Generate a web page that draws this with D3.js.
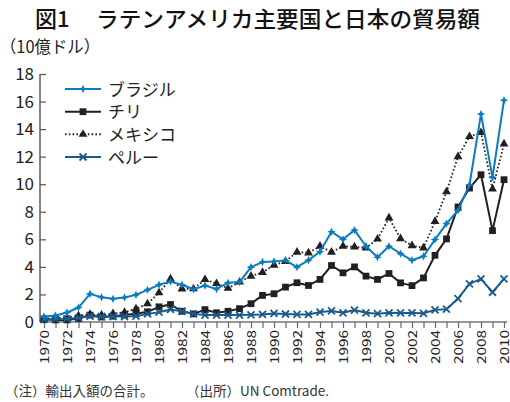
<!DOCTYPE html>
<html><head><meta charset="utf-8">
<script src="https://cdn.jsdelivr.net/npm/d3@7"></script>
<style>
body{margin:0;background:#fff;}
svg{display:block;font-family:"Noto Sans CJK JP","Noto Sans",sans-serif;}
</style></head>
<body><svg id="c" width="510" height="402"></svg>
<script>
const years = d3.range(1970, 2011);
const brazil = [0.4,0.47,0.69,1.05,2.04,1.8,1.68,1.78,1.97,2.33,
  2.7,2.93,2.7,2.38,2.64,2.4,2.84,2.9,3.98,4.35,
  4.4,4.47,3.98,4.49,5.1,6.55,6.0,6.67,5.5,4.7,
  5.5,4.96,4.48,4.77,5.98,7.14,8.1,9.96,15.1,10.5,16.1];
const chile = [0.2,0.15,0.15,0.25,0.5,0.36,0.42,0.5,0.6,0.74,
  1.1,1.27,0.78,0.59,0.9,0.67,0.78,0.97,1.33,1.93,
  2.05,2.53,2.85,2.65,3.09,4.1,3.57,4.0,3.33,3.09,
  3.52,2.84,2.64,3.2,4.84,6.03,8.35,9.72,10.69,6.63,10.33];
const mexico = [0.24,0.3,0.3,0.45,0.55,0.5,0.6,0.7,0.96,1.32,
  2.12,3.13,2.4,2.41,3.08,2.79,2.45,2.9,3.33,3.6,
  4.13,4.4,5.07,5.02,5.5,5.07,5.5,5.45,5.38,6.02,
  7.56,6.05,5.54,5.38,7.3,9.45,12.0,13.46,13.75,9.65,12.93];
const peru = [0.2,0.2,0.22,0.3,0.42,0.4,0.4,0.4,0.42,0.59,
  0.71,0.91,0.78,0.59,0.5,0.5,0.5,0.5,0.52,0.55,
  0.62,0.58,0.55,0.55,0.72,0.8,0.67,0.87,0.67,0.6,
  0.67,0.66,0.66,0.63,0.88,0.93,1.7,2.77,3.13,2.16,3.13];
const seriesNames = ["ブラジル","チリ","メキシコ","ペルー"];
const yTicks = [0,2,4,6,8,10,12,14,16,18];

const svg = d3.select("#c");
const x = d3.scaleLinear().domain([1970, 2010]).range([44, 504]);
const y = d3.scaleLinear().domain([0, 18]).range([322, 74]);

const BLUE = "#0b7cc2", DARK = "#231f20", PERU = "#1b5b8c";

// title
svg.append("text").attr("x", 35).attr("y", 27).attr("font-size", 22).attr("font-weight", 500).attr("fill", "#111").text("図1");
svg.append("text").attr("x", 96).attr("y", 27).attr("font-size", 22).attr("font-weight", 500).attr("fill", "#111")
  .attr("textLength", 384).attr("lengthAdjust", "spacingAndGlyphs").text("ラテンアメリカ主要国と日本の貿易額");
svg.append("text").attr("x", 0).attr("y", 53).attr("font-size", 17).attr("fill", "#222")
  .attr("textLength", 100).attr("lengthAdjust", "spacingAndGlyphs").text("（10億ドル）");

// y axis
const gy = svg.append("g").attr("transform", "translate(40,0)")
  .call(d3.axisRight(y).tickValues(yTicks).tickSize(6).tickFormat(""));
gy.select(".domain").attr("stroke", "#333").attr("stroke-width", 1.2).attr("d", `M0,${y(18)}V${y(0)}`);
gy.selectAll(".tick line").attr("stroke", "#555").attr("stroke-width", 1.2);
svg.append("g").selectAll("text").data(yTicks).join("text")
  .attr("x", 34).attr("y", d => y(d) + 6).attr("text-anchor", "end")
  .attr("font-size", 17).attr("fill", "#222").text(d => d);

// x axis
const gx = svg.append("g").attr("transform", `translate(0,${y(0)})`)
  .call(d3.axisBottom(x).tickValues(years).tickSize(6).tickFormat(""));
gx.select(".domain").attr("stroke", "#333").attr("stroke-width", 1.2).attr("d", "M40,0H507");
gx.selectAll(".tick line").attr("stroke", "#666").attr("stroke-width", 1.2);
svg.append("g").selectAll("text").data(years.filter(d => d % 2 === 0)).join("text")
  .attr("transform", d => `translate(${x(d) + 4.5},330) rotate(-90)`)
  .attr("text-anchor", "end").attr("font-size", 12.5).attr("fill", "#222")
  .attr("textLength", 34).attr("lengthAdjust", "spacingAndGlyphs").text(d => d);

// markers
const star = "M0,-4.2L1.3,-1.3L4.2,0L1.3,1.3L0,4.2L-1.3,1.3L-4.2,0L-1.3,-1.3Z";
const sq = d3.symbol().type(d3.symbolSquare).size(46)();
const tri = d3.symbol().type(d3.symbolTriangle).size(34)();
function drawMarker(g, type, color) {
  if (type === "x") {
    g.append("path").attr("d", "M-3.5,-3.5L3.5,3.5M-3.5,3.5L3.5,-3.5").attr("stroke", color).attr("stroke-width", 1.8).attr("fill", "none");
  } else {
    g.append("path").attr("d", type === "star" ? star : type === "sq" ? sq : tri).attr("fill", color);
  }
}
const series = [
  {name: seriesNames[2], vals: mexico, color: DARK, dash: "1.6,2.2", marker: "tri", width: 1.8},
  {name: seriesNames[1], vals: chile, color: DARK, dash: null, marker: "sq", width: 2},
  {name: seriesNames[3], vals: peru, color: PERU, dash: null, marker: "x", width: 2},
  {name: seriesNames[0], vals: brazil, color: BLUE, dash: null, marker: "star", width: 2}
];
const line = d3.line().x((d, i) => x(years[i])).y(d => y(d));
series.forEach(s => {
  svg.append("path").attr("d", line(s.vals)).attr("fill", "none").attr("stroke", s.color)
    .attr("stroke-width", s.width).attr("stroke-dasharray", s.dash).attr("stroke-linejoin", "round");
  s.vals.forEach((v, i) => {
    const g = svg.append("g").attr("transform", `translate(${x(years[i])},${y(v)})`);
    drawMarker(g, s.marker, s.color);
  });
});

// legend
const legend = [
  {name: seriesNames[0], color: BLUE, dash: null, marker: "star"},
  {name: seriesNames[1], color: DARK, dash: null, marker: "sq"},
  {name: seriesNames[2], color: DARK, dash: "1.6,2.2", marker: "tri"},
  {name: seriesNames[3], color: PERU, dash: null, marker: "x"}
];
const ly = [89, 111.7, 134.3, 157];
legend.forEach((l, i) => {
  svg.append("line").attr("x1", 65).attr("x2", 101).attr("y1", ly[i]).attr("y2", ly[i])
    .attr("stroke", l.color).attr("stroke-width", 2).attr("stroke-dasharray", l.dash);
  drawMarker(svg.append("g").attr("transform", `translate(83,${ly[i]})`), l.marker, l.color);
  svg.append("text").attr("x", 108).attr("y", ly[i] + 6.5).attr("font-size", 17).attr("fill", "#222").text(l.name);
});

// footer
svg.append("text").attr("x", 5).attr("y", 396).attr("font-size", 13.5).attr("fill", "#333").text("（注）輸出入額の合計。");
svg.append("text").attr("x", 186).attr("y", 396).attr("font-size", 13.5).attr("fill", "#333").text("（出所）UN Comtrade.");
</script></body></html>
